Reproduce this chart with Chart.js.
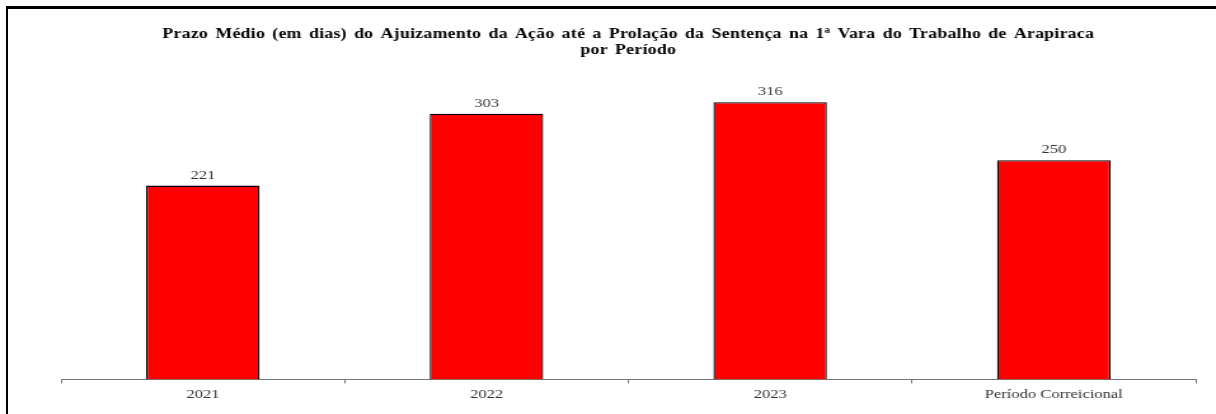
<!DOCTYPE html>
<html>
<head>
<meta charset="utf-8">
<script src="https://cdn.jsdelivr.net/npm/chart.js@4"></script>
<style>
  html, body { margin: 0; padding: 0; background: #fff; }
  body { width: 1216px; height: 414px; position: relative; overflow: hidden; }
  #frame { position: absolute; left: 6px; top: 6px; right: -10px; bottom: -10px;
           border-left: 2px solid #000; border-top: 3px solid #000; }
  /* o original foi esticado na horizontal */
  #wrap { position: absolute; left: 0; top: 0; width: 957px; height: 414px;
          transform: scaleX(1.2706); transform-origin: 0 0; }
</style>
</head>
<body>
<div id="frame"></div>
<div id="wrap"><canvas id="barChart"></canvas></div>
<script>
const categorias = ['2021', '2022', '2023', 'Período Correicional'];
const prazoMedio = [221, 303, 316, 250];
const titulo = ['Prazo Médio (em dias) do Ajuizamento da Ação até a Prolação da Sentença na 1ª Vara do Trabalho de Arapiraca', 'por Período'];

// título desenhado à mão (espaçamento largo como no original)
const tituloPlugin = {
  id: 'tituloLargo',
  afterDraw(chart) {
    const ctx = chart.ctx;
    const cx = (chart.chartArea.left + chart.chartArea.right) / 2;
    ctx.save();
    ctx.font = 'bold 14px "Liberation Serif"';
    ctx.fillStyle = '#000';
    ctx.textAlign = 'center';
    ctx.textBaseline = 'middle';
    ctx.letterSpacing = '0.2px';
    ctx.wordSpacing = '2px';
    titulo.forEach((linha, i) => ctx.fillText(linha, cx, 34 + i * 16));
    ctx.restore();
  }
};

// rótulos de valor acima das barras
const valoresPlugin = {
  id: 'valores',
  afterDatasetsDraw(chart) {
    const ctx = chart.ctx;
    const meta = chart.getDatasetMeta(0);
    ctx.save();
    ctx.font = '13px "Liberation Serif"';
    ctx.fillStyle = '#333';
    ctx.textAlign = 'center';
    ctx.textBaseline = 'alphabetic';
    meta.data.forEach((bar, i) => {
      ctx.fillText(chart.data.datasets[0].data[i], bar.x, bar.y - 7);
    });
    ctx.restore();
  }
};

const ctx = document.getElementById('barChart').getContext('2d');
const grafico = new Chart(ctx, {
  type: 'bar',
  data: {
    labels: categorias,
    datasets: [{
      data: prazoMedio,
      backgroundColor: '#FF0000',
      borderColor: '#000',
      borderWidth: 1.3,
      barPercentage: 0.4,
      categoryPercentage: 1
    }]
  },
  options: {
    responsive: true,
    maintainAspectRatio: false,
    animation: false,
    layout: { padding: { left: 48, right: 16, top: 72.5, bottom: 9 } },
    plugins: {
      legend: { display: false },
      tooltip: { enabled: false },
      title: { display: false }
    },
    scales: {
      x: {
        grid: { display: true, drawOnChartArea: false, drawTicks: true, tickLength: 4, color: '#777', offset: true },
        border: { display: true, color: '#777', width: 1 },
        ticks: { color: '#333', padding: 3, font: { family: '"Liberation Serif"', size: 13 } }
      },
      y: {
        display: false,
        min: 0,
        max: 350
      }
    }
  },
  plugins: [valoresPlugin, tituloPlugin]
});
</script>
</body>
</html>
